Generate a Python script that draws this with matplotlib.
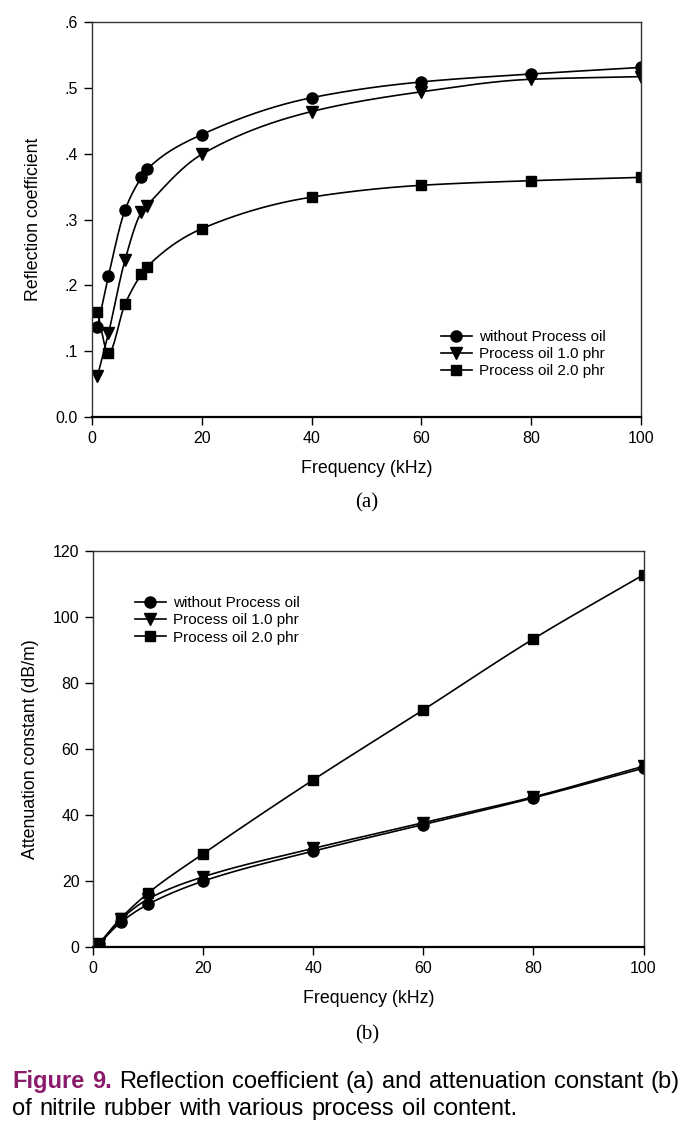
import numpy as np
import matplotlib.pyplot as plt

# ---- data ----
freq_a = [1, 3, 6, 9, 10, 20, 40, 60, 80, 100]
refl_none = [0.137, 0.214, 0.314, 0.364, 0.376, 0.429, 0.485, 0.509, 0.521, 0.531]
refl_1phr = [0.062, 0.127, 0.238, 0.311, 0.321, 0.399, 0.464, 0.494, 0.513, 0.517]
refl_2phr = [0.159, 0.097, 0.171, 0.217, 0.228, 0.286, 0.334, 0.352, 0.359, 0.364]

freq_b = [1, 5, 10, 20, 40, 60, 80, 100]
att_none = [0.8, 7.4, 12.9, 19.9, 29.0, 37.0, 45.1, 54.1]
att_1phr = [0.9, 8.3, 14.5, 21.2, 29.8, 37.6, 45.4, 54.7]
att_2phr = [0.7, 8.6, 16.3, 28.2, 50.6, 71.8, 93.3, 112.7]

labels = ['without Process oil', 'Process oil 1.0 phr', 'Process oil 2.0 phr']
markers = ['o', 'v', 's']

caption_1 = ['Figure', '9.', 'Reflection', 'coefficient', '(a)', 'and',
             'attenuation', 'constant', '(b)']
caption_2 = ['of', 'nitrile', 'rubber', 'with', 'various', 'process', 'oil',
             'content.']


def smooth(x, y, n=400):
    # monotone cubic (pchip) curve through the points, only for drawing the line
    x = np.asarray(x, float)
    y = np.asarray(y, float)
    h = np.diff(x)
    d = np.diff(y) / h
    m = np.zeros_like(y)
    m[0], m[-1] = d[0], d[-1]
    for k in range(1, len(x) - 1):
        if d[k - 1] * d[k] > 0:
            w1 = 2 * h[k] + h[k - 1]
            w2 = h[k] + 2 * h[k - 1]
            m[k] = (w1 + w2) / (w1 / d[k - 1] + w2 / d[k])
    xs = np.linspace(x[0], x[-1], n)
    i = np.clip(np.searchsorted(x, xs) - 1, 0, len(x) - 2)
    t = (xs - x[i]) / h[i]
    h00 = 2 * t**3 - 3 * t**2 + 1
    h10 = t**3 - 2 * t**2 + t
    h01 = -2 * t**3 + 3 * t**2
    h11 = t**3 - t**2
    ys = h00 * y[i] + h10 * h[i] * m[i] + h01 * y[i + 1] + h11 * h[i] * m[i + 1]
    return xs, ys


plt.rcParams['font.family'] = ['Liberation Sans', 'DejaVu Sans']

W, H = 691, 1128
fig = plt.figure(figsize=(W / 100, H / 100), dpi=100)
ax1 = fig.add_axes([0.1331, 0.6303, 0.7945, 0.3502])
ax2 = fig.add_axes([0.1350, 0.1607, 0.7963, 0.3511])

for ax, fx, series in [(ax1, freq_a, [refl_none, refl_1phr, refl_2phr]),
                       (ax2, freq_b, [att_none, att_1phr, att_2phr])]:
    for vals, mk, lab in zip(series, markers, labels):
        ms = 7 if mk == 's' else 8
        xs, ys = smooth(fx, vals)
        ax.plot(xs, ys, color='black', lw=1.2)
        ax.plot(fx, vals, linestyle='none', marker=mk, color='black', markersize=ms)
        ax.plot([], [], color='black', lw=1.2, marker=mk, markersize=ms, label=lab)
    ax.set_xlim(0, 100)
    ax.set_xticks([0, 20, 40, 60, 80, 100])
    ax.tick_params(direction='out', length=6, width=1, labelsize=11.5,
                   top=False, right=False, pad=4)
    for sp in ax.spines.values():
        sp.set_linewidth(1.0)
        sp.set_color('#333333')
    ax.spines['bottom'].set_linewidth(1.6)
    ax.spines['bottom'].set_color('black')
    ax.set_xlabel('Frequency (kHz)', fontsize=12.8, labelpad=10)

ax1.set_ylim(0, 0.6)
ax1.set_yticks([0, 0.1, 0.2, 0.3, 0.4, 0.5, 0.6])
ax1.set_yticklabels(['0.0', '.1', '.2', '.3', '.4', '.5', '.6'])
ax1.set_ylabel('Reflection coefficient', fontsize=12.8, labelpad=10)
ax1.legend(loc='upper left', bbox_to_anchor=(0.625, 0.236), frameon=False,
           fontsize=11, handlelength=2.0, handletextpad=0.5,
           labelspacing=0.2, borderaxespad=0)

ax2.set_ylim(0, 120)
ax2.set_yticks([0, 20, 40, 60, 80, 100, 120])
ax2.set_ylabel('Attenuation constant (dB/m)', fontsize=12.8, labelpad=10)
ax2.legend(loc='upper left', bbox_to_anchor=(0.065, 0.90), frameon=False,
           fontsize=11, handlelength=2.0, handletextpad=0.5,
           labelspacing=0.2, borderaxespad=0)

fig.text(0.531, 1 - 503 / H, '(a)', ha='center', va='center',
         fontsize=15, family='Liberation Serif')
fig.text(0.531, 1 - 1035 / H, '(b)', ha='center', va='center',
         fontsize=15, family='Liberation Serif')

# caption, words spread out like the justified journal text
renderer = fig.canvas.get_renderer()


def caption_line(words, x0, x1, y_px, n_bold=0):
    arts = []
    for k, w in enumerate(words):
        bold = k < n_bold
        arts.append(fig.text(0, 1 - y_px / H, w, fontsize=17, va='baseline',
                             fontweight='bold' if bold else 'normal',
                             color='#8b1a6b' if bold else 'black'))
    widths = [a.get_window_extent(renderer).width for a in arts]
    gap = (x1 - x0 - sum(widths)) / (len(arts) - 1)
    x = x0
    for a, wd in zip(arts, widths):
        a.set_x(x / W)
        x += wd + gap


caption_line(caption_1, 12, 680, 1088, n_bold=2)
caption_line(caption_2, 12, 517, 1115)

fig.savefig('out.png', dpi=100)
